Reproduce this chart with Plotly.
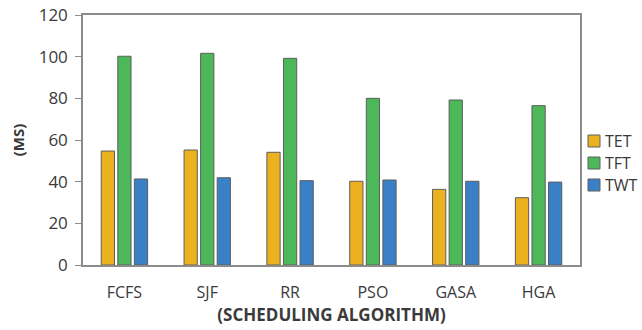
import plotly.graph_objects as go

algorithms = ["FCFS", "SJF", "RR", "PSO", "GASA", "HGA"]
tet = [54.7, 55.2, 54.1, 40.2, 36.3, 32.3]
tft = [100.2, 101.6, 99.2, 80.0, 79.2, 76.5]
twt = [41.3, 41.9, 40.5, 40.8, 40.2, 39.8]
y_ticks = [0, 20, 40, 60, 80, 100, 120]

series = [("TET", tet, "#EBB11F"), ("TFT", tft, "#4DB85A"), ("TWT", twt, "#3A80C6")]

W, H = 642, 330
ML, MR, MT, MB = 83, 62, 15, 65
PW, PH = W - ML - MR, H - MT - MB


def px_x(px):
    return (px - ML) / PW


def px_y(py):
    return (H - MB - py) / PH


fig = go.Figure()
for name, vals, color in series:
    fig.add_trace(go.Bar(
        x=algorithms, y=vals, name=name, showlegend=False,
        marker=dict(color=color, line=dict(color="#5e5e5e", width=1)),
    ))

# compact legend to the right of the plot area
legend_rows = [141, 163, 185]
for (name, _, color), cy in zip(series, legend_rows):
    fig.add_shape(type="rect", xref="paper", yref="paper",
                  x0=px_x(588), x1=px_x(600), y0=px_y(cy + 6), y1=px_y(cy - 6),
                  fillcolor=color, line=dict(color="#5e5e5e", width=1))
    fig.add_annotation(text=name, xref="paper", yref="paper",
                       x=px_x(603), y=px_y(cy), xanchor="left", yanchor="middle",
                       showarrow=False, font=dict(size=16, color="#3a3a3a"))

axis_color = "#8c8c8c"
fig.update_layout(
    width=W, height=H,
    margin=dict(l=ML, r=MR, t=MT, b=MB, autoexpand=False),
    paper_bgcolor="white", plot_bgcolor="white",
    barmode="group", bargap=0.4, bargroupgap=0.2,
    font=dict(family="Open Sans, Liberation Sans, sans-serif", size=16, color="#3a3a3a"),
    showlegend=False,
    xaxis=dict(
        showline=True, linecolor=axis_color, linewidth=1.5, mirror=True,
        ticks="", tickfont=dict(size=16), ticklabelstandoff=12,
        title=dict(text="<b>(SCHEDULING ALGORITHM)</b>", font=dict(size=17), standoff=6),
    ),
    yaxis=dict(
        range=[0, 120], tickvals=y_ticks, showgrid=False, zeroline=False,
        showline=True, linecolor=axis_color, linewidth=1.5, mirror=True,
        ticks="outside", ticklen=6, tickcolor=axis_color, tickfont=dict(size=17),
        ticklabelstandoff=4,
        title=dict(text="<b>(MS)</b>", font=dict(size=15), standoff=10),
    ),
)

fig.write_html("out.html")
